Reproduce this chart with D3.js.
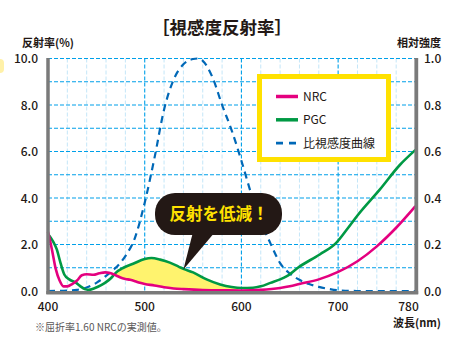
<!DOCTYPE html>
<html>
<head>
<meta charset="utf-8">
<script src="https://cdn.jsdelivr.net/npm/d3@7/dist/d3.min.js"></script>
<style>
  body { margin: 0; background: #fff; }
  text { font-family: "Noto Sans CJK JP", "Noto Sans", sans-serif; }
</style>
</head>
<body>
<div id="chart"></div>
<script>
// NRC reflectance (%)
var nrcWl  = [400, 404, 408, 412, 416, 420, 425, 430, 435, 440, 447, 453, 459, 465, 470, 475, 480, 485, 490, 495, 500, 510, 520, 530, 540, 560, 580, 600, 620, 640, 650, 660, 680, 700, 720, 740, 760, 780];
var nrcVal = [2.55, 1.8, 0.95, 0.45, 0.2, 0.2, 0.3, 0.45, 0.68, 0.72, 0.7, 0.76, 0.8, 0.76, 0.68, 0.58, 0.52, 0.48, 0.42, 0.35, 0.3, 0.24, 0.16, 0.11, 0.08, 0.04, 0.03, 0.02, 0.05, 0.13, 0.2, 0.3, 0.5, 0.82, 1.28, 1.92, 2.72, 3.65];

// PGC reflectance (%)
var pgcWl  = [400, 405, 409, 413, 417, 422, 428, 433, 438, 442, 448, 455, 460, 465, 470, 478, 488, 500, 507, 516, 526, 535, 540, 550, 564, 578, 590, 600, 612, 620, 630, 640, 647, 660, 681, 698, 710, 720, 743, 764, 780];
var pgcVal = [2.45, 2.15, 1.8, 1.2, 0.7, 0.5, 0.38, 0.22, 0.08, 0.05, 0.12, 0.25, 0.38, 0.55, 0.78, 1.0, 1.17, 1.38, 1.42, 1.35, 1.22, 1.05, 0.95, 0.8, 0.5, 0.28, 0.17, 0.13, 0.14, 0.2, 0.35, 0.5, 0.64, 1.05, 1.57, 2.07, 2.7, 3.25, 4.36, 5.43, 6.07];

// relative luminous efficiency (right axis, 0-1)
var eyeWl  = [400, 420, 430, 440, 450, 460, 470, 480, 490, 500, 510, 520, 530, 540, 550, 555, 560, 570, 580, 590, 600, 610, 620, 630, 640, 650, 660, 670, 680, 690, 700, 720, 780];
var eyeVal = [0, 0.002, 0.005, 0.015, 0.035, 0.065, 0.1, 0.15, 0.23, 0.38, 0.57, 0.78, 0.91, 0.975, 0.998, 1.0, 0.99, 0.92, 0.8, 0.69, 0.56, 0.42, 0.3, 0.205, 0.12, 0.075, 0.048, 0.03, 0.018, 0.009, 0.003, 0, 0];

var xTicks = [400, 500, 600, 700, 780];
var yTicksLeft = [0, 2, 4, 6, 8, 10];
var yTicksRight = [0, 0.2, 0.4, 0.6, 0.8, 1.0];
var seriesNames = ['NRC', 'PGC', '比視感度曲線'];
var fillRange = [467, 597];

var W = 462, H = 352;
var magenta = '#e4007f', green = '#009944', blue = '#0068b7';
var gridBlue = '#00a0e9', gridLight = '#c4e6f8', barGray = '#7a7a7a', ink = '#231815';

var svg = d3.select('#chart').append('svg')
    .attr('width', W)
    .attr('height', H);

var x = d3.scaleLinear().domain([400, 780]).range([48, 415.5]);
var y = d3.scaleLinear().domain([0, 10]).range([291, 58.5]);
var y2 = d3.scaleLinear().domain([0, 1]).range([291, 58.5]);

// small yellow mark at the left edge
svg.append('rect')
    .attr('x', -6).attr('y', 59).attr('width', 10).attr('height', 14)
    .attr('rx', 4).attr('fill', '#fff1a8');

// grid
var g = svg.append('g');
g.selectAll('.vminor')
    .data(d3.range(420, 780, 20).filter(function (d) { return d % 100 !== 0; }))
    .enter().append('line')
    .attr('x1', function (d) { return x(d); })
    .attr('x2', function (d) { return x(d); })
    .attr('y1', y(10)).attr('y2', y(0))
    .attr('stroke', gridLight).attr('stroke-width', 1)
    .attr('stroke-dasharray', '4,2');

g.selectAll('.vmajor')
    .data([500, 600, 700])
    .enter().append('line')
    .attr('x1', function (d) { return x(d); })
    .attr('x2', function (d) { return x(d); })
    .attr('y1', y(10)).attr('y2', y(0))
    .attr('stroke', gridBlue).attr('stroke-width', 1.1)
    .attr('stroke-dasharray', '4,2');

g.selectAll('.hgrid')
    .data(d3.range(1, 11))
    .enter().append('line')
    .attr('x1', x(400)).attr('x2', x(780))
    .attr('y1', function (d) { return y(d); })
    .attr('y2', function (d) { return y(d); })
    .attr('stroke', gridBlue).attr('stroke-width', 1.1)
    .attr('stroke-dasharray', '4,2');

var nrc = nrcWl.map(function (w, i) { return [w, nrcVal[i]]; });
var pgc = pgcWl.map(function (w, i) { return [w, pgcVal[i]]; });
var eye = eyeWl.map(function (w, i) { return [w, eyeVal[i]]; });

var line = d3.line()
    .x(function (d) { return x(d[0]); })
    .y(function (d) { return y(d[1]); })
    .curve(d3.curveMonotoneX);
var line2 = d3.line()
    .x(function (d) { return x(d[0]); })
    .y(function (d) { return y2(d[1]); })
    .curve(d3.curveMonotoneX);

// yellow fill between PGC (above) and NRC (below)
var defs = svg.append('defs');
defs.append('clipPath').attr('id', 'rangeClip')
    .append('rect')
    .attr('x', x(fillRange[0])).attr('y', y(10))
    .attr('width', x(fillRange[1]) - x(fillRange[0]))
    .attr('height', y(0) - y(10));
defs.append('clipPath').attr('id', 'underPgc')
    .append('path')
    .attr('d', d3.area()
        .x(function (d) { return x(d[0]); })
        .y0(y(0))
        .y1(function (d) { return y(d[1]); })
        .curve(d3.curveMonotoneX)(pgc));

svg.append('g').attr('clip-path', 'url(#rangeClip)')
    .append('path')
    .attr('clip-path', 'url(#underPgc)')
    .attr('d', d3.area()
        .x(function (d) { return x(d[0]); })
        .y0(y(10))
        .y1(function (d) { return y(d[1]); })
        .curve(d3.curveMonotoneX)(nrc))
    .attr('fill', '#fff36e');

// curves
svg.append('path').datum(eye)
    .attr('d', line2)
    .attr('fill', 'none').attr('stroke', blue)
    .attr('stroke-width', 2.2).attr('stroke-dasharray', '7,5');

svg.append('path').datum(pgc)
    .attr('d', line)
    .attr('fill', 'none').attr('stroke', green).attr('stroke-width', 2.6);

svg.append('path').datum(nrc)
    .attr('d', line)
    .attr('fill', 'none').attr('stroke', magenta).attr('stroke-width', 2.6);

// axis bars
svg.append('line')
    .attr('x1', x(400)).attr('x2', x(400))
    .attr('y1', y(10) - 0.5).attr('y2', y(0) + 3)
    .attr('stroke', barGray).attr('stroke-width', 3.5);
svg.append('line')
    .attr('x1', x(780) + 0.8).attr('x2', x(780) + 0.8)
    .attr('y1', y(10) - 0.5).attr('y2', y(0) + 3)
    .attr('stroke', barGray).attr('stroke-width', 3.8);
svg.append('line')
    .attr('x1', x(400) - 1.7).attr('x2', x(780) + 2.7)
    .attr('y1', y(0) + 1.8).attr('y2', y(0) + 1.8)
    .attr('stroke', barGray).attr('stroke-width', 3.5);

// tick labels
svg.selectAll('.ly')
    .data(yTicksLeft)
    .enter().append('text')
    .attr('x', 38).attr('y', function (d) { return y(d) + 4.5; })
    .attr('text-anchor', 'end')
    .attr('font-size', '12px').attr('font-weight', 500).attr('fill', ink)
    .text(function (d) { return d.toFixed(1); });

svg.selectAll('.ry')
    .data(yTicksRight)
    .enter().append('text')
    .attr('x', 424).attr('y', function (d) { return y2(d) + 4.5; })
    .attr('font-size', '12px').attr('font-weight', 500).attr('fill', ink)
    .text(function (d) { return d.toFixed(1); });

svg.selectAll('.xt')
    .data(xTicks)
    .enter().append('text')
    .attr('x', function (d) { return d === 780 ? x(d) - 7 : x(d); })
    .attr('y', 311)
    .attr('text-anchor', 'middle')
    .attr('font-size', '12px').attr('font-weight', 500).attr('fill', ink)
    .text(function (d) { return d; });

// titles
svg.append('text')
    .attr('x', 222).attr('y', 34)
    .attr('text-anchor', 'middle')
    .attr('font-size', '17.5px').attr('font-weight', 700).attr('fill', ink)
    .text('［視感度反射率］');

svg.append('text')
    .attr('x', 22).attr('y', 47)
    .attr('font-size', '11px').attr('font-weight', 700).attr('fill', ink)
    .text('反射率(%)');

svg.append('text')
    .attr('x', 441).attr('y', 47)
    .attr('text-anchor', 'end')
    .attr('font-size', '11px').attr('font-weight', 700).attr('fill', ink)
    .text('相対強度');

svg.append('text')
    .attr('x', 441).attr('y', 327)
    .attr('text-anchor', 'end')
    .attr('font-size', '11px').attr('font-weight', 700).attr('fill', ink)
    .text('波長(nm)');

svg.append('text')
    .attr('x', 35).attr('y', 331)
    .attr('font-size', '10px').attr('fill', '#595757')
    .text('※屈折率1.60 NRCの実測値。');

// legend
var lg = svg.append('g');
lg.append('rect')
    .attr('x', 259.5).attr('y', 76.5)
    .attr('width', 129).attr('height', 83)
    .attr('fill', '#fff').attr('stroke', '#ffe100').attr('stroke-width', 5);

var legendColors = [magenta, green, blue];
seriesNames.forEach(function (name, i) {
    var ly = 96.5 + i * 23.3;
    lg.append('line')
        .attr('x1', 276).attr('x2', 298)
        .attr('y1', ly).attr('y2', ly)
        .attr('stroke', legendColors[i])
        .attr('stroke-width', i === 2 ? 2.6 : 3.5)
        .attr('stroke-dasharray', i === 2 ? '7,6' : null);
    lg.append('text')
        .attr('x', 303).attr('y', ly + 4.5)
        .attr('font-size', '12px').attr('fill', ink)
        .text(name);
});

// callout bubble
var tipX = x(540), tipY = y(0.92);
var cg = svg.append('g');
cg.append('rect')
    .attr('x', 155).attr('y', 193)
    .attr('width', 127).attr('height', 42)
    .attr('rx', 20).attr('fill', ink);
cg.append('path')
    .attr('d', 'M193,232 L' + tipX + ',' + tipY + ' L215,232 Z')
    .attr('fill', ink);
cg.append('text')
    .attr('x', 219).attr('y', 220)
    .attr('text-anchor', 'middle')
    .attr('font-size', '16.5px').attr('font-weight', 700)
    .attr('fill', '#ffe100')
    .text('反射を低減！');
</script>
</body>
</html>
